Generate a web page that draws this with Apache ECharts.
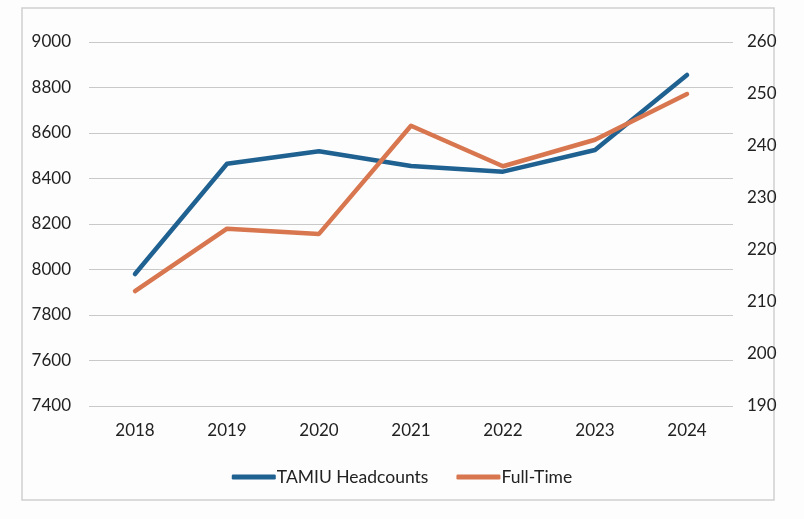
<!DOCTYPE html>
<html>
<head>
<meta charset="utf-8">
<script src="https://cdn.jsdelivr.net/npm/echarts@6/dist/echarts.min.js"></script>
<style>
  html, body { margin: 0; padding: 0; background: #fff; }
  #chart { width: 804px; height: 519px; }
</style>
</head>
<body>
<div id="chart"></div>
<script>
const years = ['2018', '2019', '2020', '2021', '2022', '2023', '2024'];
const headcounts = [7980, 8465, 8520, 8455, 8430, 8525, 8855];
const fullTime = [212.1, 224.1, 223.1, 243.9, 236.1, 241.2, 250.0];

const chart = echarts.init(document.getElementById('chart'));
const font = 'Lato, "Open Sans", sans-serif';

chart.setOption({
  animation: false,
  backgroundColor: '#fdfdfd',
  textStyle: { fontFamily: font },
  graphic: [{
    type: 'rect',
    shape: { x: 22, y: 8, width: 752, height: 492 },
    style: { fill: 'none', stroke: '#cfcfcf', lineWidth: 1.5 },
    z: -1
  }],
  grid: { left: 89, right: 71, top: 42, bottom: 113 },
  legend: {
    data: ['TAMIU Headcounts', 'Full-Time'],
    bottom: 28,
    left: 'center',
    icon: 'roundRect',
    itemWidth: 44,
    itemHeight: 5,
    itemGap: 28,
    textStyle: { fontSize: 17.5, color: '#222', padding: [0, 0, 0, -4] }
  },
  xAxis: {
    type: 'category',
    data: years,
    axisLine: { show: false },
    axisTick: { show: false },
    axisLabel: { color: '#222', fontSize: 17, margin: 16 }
  },
  yAxis: [
    {
      type: 'value',
      min: 7400,
      max: 9000,
      interval: 200,
      axisLine: { show: false },
      axisTick: { show: false },
      axisLabel: { color: '#222', fontSize: 17, margin: 18, formatter: v => String(v) },
      splitLine: { lineStyle: { color: '#c9c9c9', width: 1 } }
    },
    {
      type: 'value',
      min: 190,
      max: 260,
      interval: 10,
      axisLine: { show: false },
      axisTick: { show: false },
      axisLabel: { color: '#222', fontSize: 17, margin: 14, formatter: v => String(v) },
      splitLine: { show: false }
    }
  ],
  series: [
    {
      name: 'TAMIU Headcounts',
      type: 'line',
      data: headcounts,
      yAxisIndex: 0,
      symbol: 'none',
      lineStyle: { color: '#1f6190', width: 4.5, cap: 'round', join: 'round' },
      itemStyle: { color: '#1f6190' }
    },
    {
      name: 'Full-Time',
      type: 'line',
      data: fullTime,
      yAxisIndex: 1,
      symbol: 'none',
      lineStyle: { color: '#d8774f', width: 4.5, cap: 'round', join: 'round' },
      itemStyle: { color: '#d8774f' }
    }
  ]
});
</script>
</body>
</html>
